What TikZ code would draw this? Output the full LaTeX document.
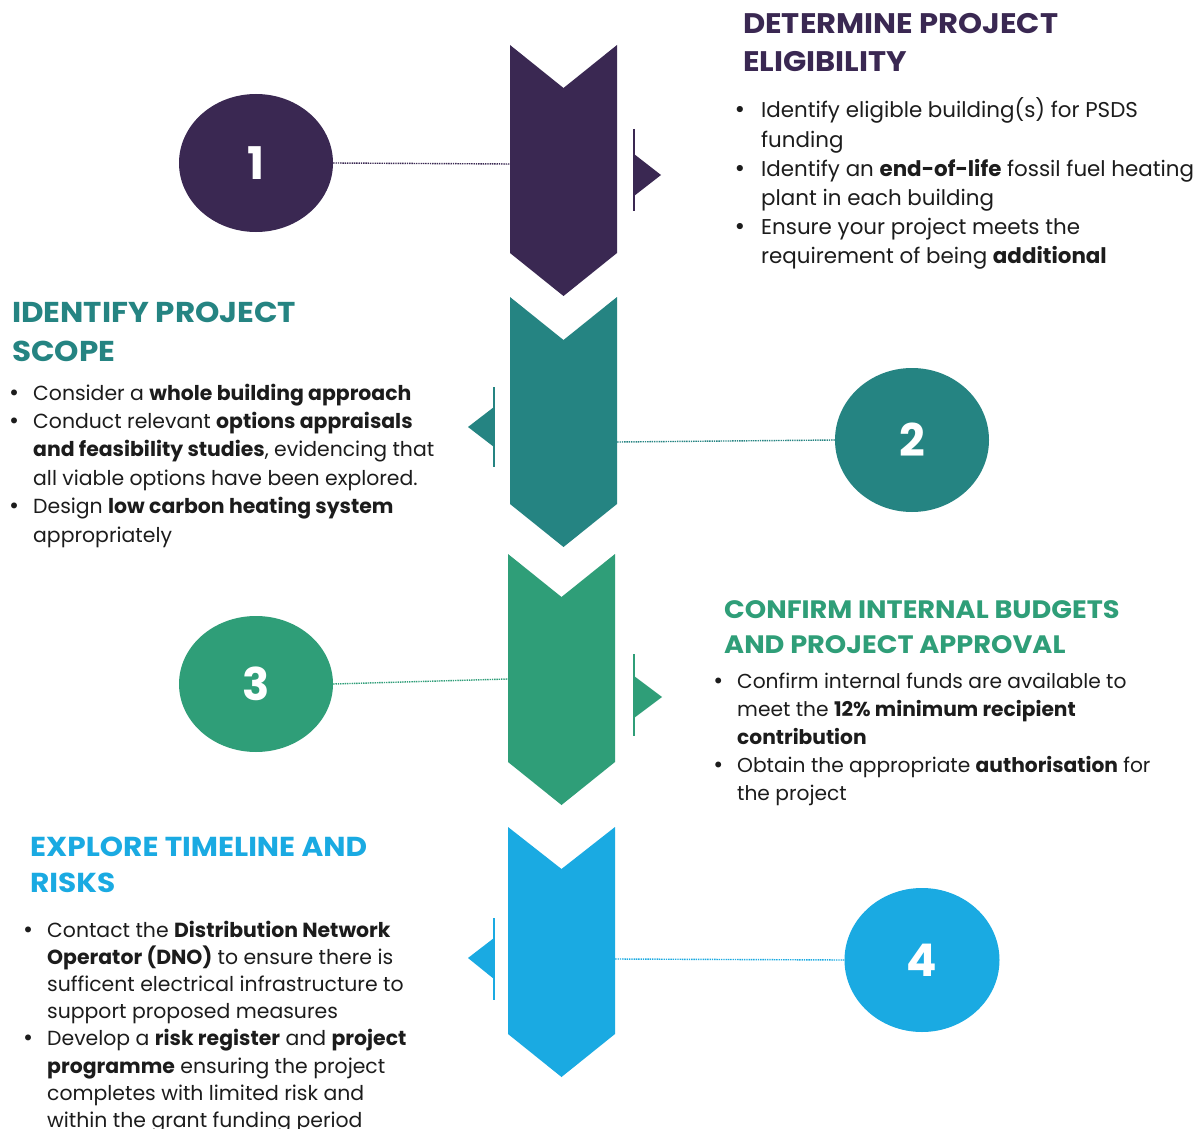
\documentclass[tikz,border=0pt]{standalone}
\usepackage{fontspec}
\setmainfont{Poppins}
\newfontfamily\headfont{Poppins}[FakeStretch=1.08]
\newfontfamily\bulfont{DejaVu Sans}
\usetikzlibrary{shapes.geometric}
\definecolor{cpurple}{HTML}{3A2852}
\definecolor{cteal}{HTML}{258482}
\definecolor{cgreen}{HTML}{2F9E78}
\definecolor{cblue}{HTML}{1AAAE2}
\definecolor{ctext}{HTML}{1C1C1C}
\newcommand{\bul}{\leavevmode\llap{{\bulfont •}\hspace{13pt}}}
\newcommand{\bulw}{\leavevmode\llap{{\bulfont •}\hspace{15pt}}}
\begin{document}
\begin{tikzpicture}[x=1pt,y=-1pt,
  numcirc/.style={ellipse,inner sep=0pt,text=white,font=\fontsize{45}{45}\selectfont\bfseries},
  conn/.style={line width=1.4pt,dash pattern=on 1.4pt off 0.9pt},
  tick/.style={line width=2pt},
  headtxt/.style={anchor=base west,inner sep=0pt},
  bodytxt/.style={anchor=base west,inner sep=0pt,text=ctext}]
\path[fill=white,use as bounding box] (0,0) rectangle (1203,1129);

% chevrons
\fill[cpurple] (510,45) -- (563.5,88) -- (617,45) -- (617,253) -- (563.5,296) -- (510,253) -- cycle;
\fill[cteal] (510,297) -- (563.5,340) -- (617,297) -- (617,504) -- (563.5,547) -- (510,504) -- cycle;
\fill[cgreen] (508,554) -- (561.5,597) -- (615,554) -- (615,762) -- (561.5,805) -- (508,762) -- cycle;
\fill[cblue] (508,827) -- (561.5,869) -- (615,827) -- (615,1034) -- (561.5,1077) -- (508,1034) -- cycle;

% side markers
\draw[tick,cpurple] (634,129) -- (634,211);
\fill[cpurple] (634,154) -- (661,175) -- (634,196) -- cycle;
\draw[tick,cteal] (494,387) -- (494,467);
\fill[cteal] (494,407) -- (468,427) -- (494,447) -- cycle;
\draw[tick,cgreen] (634,654) -- (634,736);
\fill[cgreen] (634,676) -- (662,697) -- (634,718) -- cycle;
\draw[tick,cblue] (494,918) -- (494,1000);
\fill[cblue] (494,938) -- (468,958) -- (494,979) -- cycle;

% circles
\node[numcirc,fill=cpurple,minimum width=154pt,minimum height=138pt] (c1) at (256,163) {1};
\node[numcirc,fill=cteal,minimum width=154pt,minimum height=144pt] (c2) at (912,440) {2};
\node[numcirc,fill=cgreen,minimum width=154pt,minimum height=136pt] (c3) at (256,684) {3};
\node[numcirc,fill=cblue,minimum width=155pt,minimum height=144pt] (c4) at (922,960) {4};

\coordinate (k1) at (510,164);
\coordinate (k2) at (617,442);
\coordinate (k3) at (508,679);
\coordinate (k4) at (615,959);
\draw[conn,cpurple] (c1.east) -- (k1);
\draw[conn,cteal] (c2.west) -- (k2);
\draw[conn,cgreen] (c3.east) -- (k3);
\draw[conn,cblue] (c4.west) -- (k4);

% headings
\node[headtxt,text=cpurple] (h1) at (743,34) {\parbox[t]{460pt}{\headfont\bfseries\fontsize{28.3}{38}\selectfont DETERMINE PROJECT\\ELIGIBILITY}};
\node[headtxt,text=cteal] (h2) at (12,322) {\parbox[t]{460pt}{\headfont\bfseries\fontsize{28.7}{39}\selectfont IDENTIFY PROJECT\\SCOPE}};
\node[headtxt,text=cgreen] (h3) at (724,618) {\parbox[t]{470pt}{\headfont\bfseries\fontsize{25.2}{35}\selectfont CONFIRM INTERNAL BUDGETS\\AND PROJECT APPROVAL}};
\node[headtxt,text=cblue] (h4) at (30,856) {\parbox[t]{460pt}{\headfont\bfseries\fontsize{27.4}{36}\selectfont EXPLORE TIMELINE AND\\RISKS}};

% bodies
\node[bodytxt] (b1) at (761,118) {\parbox[t]{450pt}{\fontsize{21.4}{29.2}\selectfont
\bulw Identify eligible building(s) for PSDS\\
funding\\
\bulw Identify an \textbf{end-of-life} fossil fuel heating\\
plant in each building\\
\bulw Ensure your project meets the\\
requirement of being \textbf{additional}}};

\node[bodytxt] (b2) at (33,400) {\parbox[t]{450pt}{\fontsize{20.4}{28.4}\selectfont
\bul Consider a \textbf{whole building approach}\\
\bul Conduct relevant \textbf{options appraisals}\\
\textbf{and feasibility studies}, evidencing that\\
all viable options have been explored.\\
\bul Design \textbf{low carbon heating system}\\
appropriately}};

\node[bodytxt] (b3) at (737,688) {\parbox[t]{450pt}{\fontsize{20.2}{28}\selectfont
\bul Confirm internal funds are available to\\
meet the \textbf{12\% minimum recipient}\\
\textbf{contribution}\\
\bul Obtain the appropriate \textbf{authorisation} for\\
the project}};

\node[bodytxt] (b4) at (47,937) {\parbox[t]{450pt}{\fontsize{20.4}{27.2}\selectfont
\bul Contact the \textbf{Distribution Network}\\
\textbf{Operator (DNO)} to ensure there is\\
sufficent electrical infrastructure to\\
support proposed measures\\
\bul Develop a \textbf{risk register} and \textbf{project}\\
\textbf{programme} ensuring the project\\
completes with limited risk and\\
within the grant funding period}};
\end{tikzpicture}
\end{document}
